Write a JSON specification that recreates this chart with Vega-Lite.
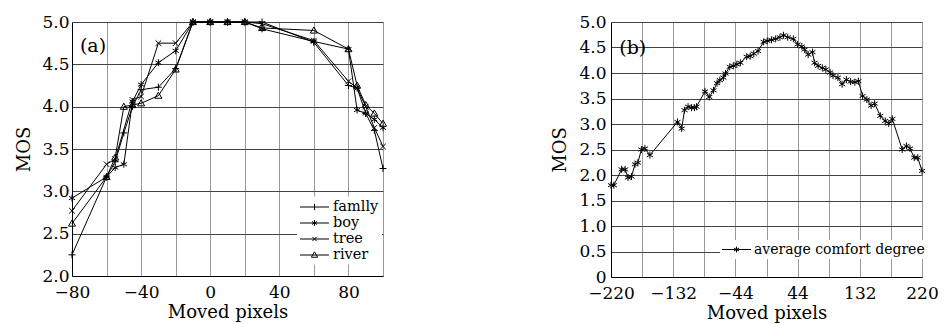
{
  "$schema": "https://vega.github.io/schema/vega-lite/v6.json",
  "background": "white",
  "padding": {"left": 15, "top": 13, "right": 5, "bottom": 2},
  "spacing": 162,
  "resolve": {"scale": {"shape": "independent"}, "legend": {"shape": "independent"}},
  "config": {
    "view": {"stroke": null},
    "font": "DejaVu Serif",
    "axis": {"labelFont": "DejaVu Serif", "titleFont": "DejaVu Serif", "labelColor": "black", "titleColor": "black", "labelFontSize": 17, "titleFontSize": 18, "titleFontWeight": "normal", "domainColor": "black", "domainWidth": 1, "ticks": false, "gridOpacity": 1, "gridWidth": 1, "labelFlush": false, "labelOverlap": false},
    "axisX": {"gridColor": "#999999"},
    "axisY": {"gridColor": "#444444"},
    "legend": {"labelFont": "DejaVu Serif", "labelFontSize": 14.5, "labelColor": "black", "fillColor": "white", "padding": 3, "orient": "none", "labelOffset": 18, "rowPadding": 1, "symbolSize": 196, "symbolStrokeColor": "black", "symbolStrokeWidth": 1, "symbolFillColor": "transparent", "symbolOpacity": 1, "labelLimit": 300}
  },
  "hconcat": [
    {
      "width": 311,
      "height": 254,
      "resolve": {"scale": {"shape": "independent"}, "legend": {"shape": "independent"}},
      "data": {"values": [
        {"x": -80, "y": 2.25, "s": "famlly"}, {"x": -60, "y": 3.17, "s": "famlly"}, {"x": -55, "y": 3.35, "s": "famlly"}, {"x": -50, "y": 3.69, "s": "famlly"}, {"x": -45, "y": 4.0, "s": "famlly"}, {"x": -40, "y": 4.2, "s": "famlly"}, {"x": -30, "y": 4.23, "s": "famlly"}, {"x": -20, "y": 4.45, "s": "famlly"}, {"x": -10, "y": 5.0, "s": "famlly"}, {"x": 0, "y": 5.0, "s": "famlly"}, {"x": 10, "y": 5.0, "s": "famlly"}, {"x": 20, "y": 5.0, "s": "famlly"}, {"x": 30, "y": 5.0, "s": "famlly"}, {"x": 60, "y": 4.76, "s": "famlly"}, {"x": 80, "y": 4.25, "s": "famlly"}, {"x": 85, "y": 4.22, "s": "famlly"}, {"x": 90, "y": 3.92, "s": "famlly"}, {"x": 95, "y": 3.72, "s": "famlly"}, {"x": 100, "y": 3.27, "s": "famlly"},
        {"x": -80, "y": 2.92, "s": "boy"}, {"x": -60, "y": 3.17, "s": "boy"}, {"x": -55, "y": 3.28, "s": "boy"}, {"x": -50, "y": 3.32, "s": "boy"}, {"x": -45, "y": 4.06, "s": "boy"}, {"x": -40, "y": 4.26, "s": "boy"}, {"x": -30, "y": 4.52, "s": "boy"}, {"x": -20, "y": 4.66, "s": "boy"}, {"x": -10, "y": 5.0, "s": "boy"}, {"x": 0, "y": 5.0, "s": "boy"}, {"x": 10, "y": 5.0, "s": "boy"}, {"x": 20, "y": 5.0, "s": "boy"}, {"x": 30, "y": 4.92, "s": "boy"}, {"x": 60, "y": 4.77, "s": "boy"}, {"x": 80, "y": 4.68, "s": "boy"}, {"x": 85, "y": 3.96, "s": "boy"}, {"x": 90, "y": 3.92, "s": "boy"}, {"x": 95, "y": 3.85, "s": "boy"}, {"x": 100, "y": 3.75, "s": "boy"},
        {"x": -80, "y": 2.77, "s": "tree"}, {"x": -60, "y": 3.32, "s": "tree"}, {"x": -55, "y": 3.38, "s": "tree"}, {"x": -45, "y": 4.08, "s": "tree"}, {"x": -40, "y": 4.12, "s": "tree"}, {"x": -30, "y": 4.75, "s": "tree"}, {"x": -20, "y": 4.75, "s": "tree"}, {"x": -10, "y": 5.0, "s": "tree"}, {"x": 0, "y": 5.0, "s": "tree"}, {"x": 10, "y": 5.0, "s": "tree"}, {"x": 20, "y": 5.0, "s": "tree"}, {"x": 30, "y": 4.98, "s": "tree"}, {"x": 60, "y": 4.78, "s": "tree"}, {"x": 80, "y": 4.3, "s": "tree"}, {"x": 85, "y": 4.22, "s": "tree"}, {"x": 90, "y": 4.0, "s": "tree"}, {"x": 95, "y": 3.75, "s": "tree"}, {"x": 100, "y": 3.53, "s": "tree"},
        {"x": -80, "y": 2.62, "s": "river"}, {"x": -60, "y": 3.17, "s": "river"}, {"x": -55, "y": 3.4, "s": "river"}, {"x": -50, "y": 4.0, "s": "river"}, {"x": -45, "y": 4.02, "s": "river"}, {"x": -40, "y": 4.04, "s": "river"}, {"x": -30, "y": 4.13, "s": "river"}, {"x": -20, "y": 4.44, "s": "river"}, {"x": -10, "y": 5.0, "s": "river"}, {"x": 0, "y": 5.0, "s": "river"}, {"x": 10, "y": 5.0, "s": "river"}, {"x": 20, "y": 5.0, "s": "river"}, {"x": 30, "y": 4.93, "s": "river"}, {"x": 60, "y": 4.9, "s": "river"}, {"x": 80, "y": 4.68, "s": "river"}, {"x": 85, "y": 4.25, "s": "river"}, {"x": 90, "y": 4.02, "s": "river"}, {"x": 95, "y": 3.92, "s": "river"}, {"x": 100, "y": 3.8, "s": "river"}
      ]},
      "encoding": {
        "x": {"field": "x", "type": "quantitative", "scale": {"domain": [-80, 100], "nice": false, "zero": false},
              "axis": {"title": "Moved pixels", "values": [-80, -60, -40, -20, 0, 20, 40, 60, 80, 100], "labelExpr": "datum.value % 40 === 0 ? datum.label : ''", "labelPadding": 8, "titlePadding": 3}},
        "y": {"field": "y", "type": "quantitative", "scale": {"domain": [2, 5], "nice": false, "zero": false},
              "axis": {"title": "MOS", "values": [2, 2.5, 3, 3.5, 4, 4.5, 5], "format": ".1f", "labelPadding": 3, "titlePadding": 8}}
      },
      "layer": [
        {
          "mark": {"type": "line", "color": "black", "strokeWidth": 1},
          "encoding": {"detail": {"field": "s"}}
        },
        {
          "mark": {"type": "point", "filled": false, "color": "black", "opacity": 1, "strokeWidth": 1, "size": 49},
          "encoding": {
            "shape": {"field": "s", "type": "nominal", "legend": null,
              "scale": {"domain": ["famlly", "boy", "tree", "river"], "range": ["M-1,0L1,0M0,-1L0,1", "M0,-1L0,1M-0.87,-0.5L0.87,0.5M-0.87,0.5L0.87,-0.5", "M-0.8,-0.8L0.8,0.8M-0.8,0.8L0.8,-0.8", "M0,-1L1,0.75L-1,0.75Z"]}}
          }
        },
        {
          "mark": {"type": "point", "filled": false, "color": "black", "opacity": 1, "strokeWidth": 1, "size": 0},
          "encoding": {
            "shape": {"field": "s", "type": "nominal",
              "scale": {"domain": ["famlly", "boy", "tree", "river"], "range": ["M-1.07,0L3.07,0M1,-0.45L1,0.45", "M-1.07,0L3.07,0M1,-0.42L1,0.42M0.64,-0.21L1.36,0.21M0.64,0.21L1.36,-0.21", "M-1.07,0L3.07,0M0.7,-0.3L1.3,0.3M0.7,0.3L1.3,-0.3", "M-1.07,0L3.07,0M1,-0.45L1.45,0.32L0.55,0.32Z"]},
              "legend": {"title": null, "legendX": 225, "legendY": 174.5,
                "encode": {"symbols": {"size": {"value": 196}, "fill": {"value": "transparent"}, "stroke": {"value": "black"}, "strokeWidth": {"value": 1}, "opacity": {"value": 1}}}}}
          }
        },
        {
          "data": {"values": [{"x": -75.4, "y": 4.72, "t": "(a)"}]},
          "mark": {"type": "text", "align": "left", "baseline": "middle", "fontSize": 19, "font": "DejaVu Serif", "color": "black"},
          "encoding": {"text": {"field": "t"}}
        }
      ]
    },
    {
      "width": 311,
      "height": 255,
      "resolve": {"scale": {"shape": "independent"}, "legend": {"shape": "independent"}},
      "data": {"values": [
        {"x": -220, "y": 1.80, "s": "average comfort degree"}, {"x": -216, "y": 1.80, "s": "average comfort degree"}, {"x": -205, "y": 2.11, "s": "average comfort degree"}, {"x": -200, "y": 2.11, "s": "average comfort degree"}, {"x": -196, "y": 1.95, "s": "average comfort degree"}, {"x": -191, "y": 1.97, "s": "average comfort degree"}, {"x": -186, "y": 2.21, "s": "average comfort degree"}, {"x": -182, "y": 2.24, "s": "average comfort degree"}, {"x": -177, "y": 2.50, "s": "average comfort degree"}, {"x": -172, "y": 2.52, "s": "average comfort degree"}, {"x": -165, "y": 2.39, "s": "average comfort degree"},
        {"x": -126, "y": 3.04, "s": "average comfort degree"}, {"x": -120, "y": 2.91, "s": "average comfort degree"}, {"x": -116, "y": 3.27, "s": "average comfort degree"}, {"x": -111, "y": 3.34, "s": "average comfort degree"}, {"x": -106, "y": 3.32, "s": "average comfort degree"}, {"x": -102, "y": 3.32, "s": "average comfort degree"}, {"x": -99, "y": 3.34, "s": "average comfort degree"},
        {"x": -87, "y": 3.64, "s": "average comfort degree"}, {"x": -81, "y": 3.53, "s": "average comfort degree"}, {"x": -75, "y": 3.66, "s": "average comfort degree"}, {"x": -70, "y": 3.80, "s": "average comfort degree"}, {"x": -66, "y": 3.86, "s": "average comfort degree"}, {"x": -61, "y": 3.91, "s": "average comfort degree"}, {"x": -58, "y": 3.99, "s": "average comfort degree"}, {"x": -52, "y": 4.12, "s": "average comfort degree"}, {"x": -47, "y": 4.14, "s": "average comfort degree"}, {"x": -42, "y": 4.17, "s": "average comfort degree"}, {"x": -37, "y": 4.20, "s": "average comfort degree"}, {"x": -28, "y": 4.32, "s": "average comfort degree"}, {"x": -23, "y": 4.33, "s": "average comfort degree"}, {"x": -18, "y": 4.38, "s": "average comfort degree"}, {"x": -12, "y": 4.43, "s": "average comfort degree"},
        {"x": -4, "y": 4.61, "s": "average comfort degree"}, {"x": 1, "y": 4.63, "s": "average comfort degree"}, {"x": 7, "y": 4.65, "s": "average comfort degree"}, {"x": 13, "y": 4.67, "s": "average comfort degree"}, {"x": 19, "y": 4.70, "s": "average comfort degree"}, {"x": 24, "y": 4.74, "s": "average comfort degree"}, {"x": 30, "y": 4.70, "s": "average comfort degree"}, {"x": 38, "y": 4.67, "s": "average comfort degree"}, {"x": 44, "y": 4.56, "s": "average comfort degree"}, {"x": 50, "y": 4.52, "s": "average comfort degree"}, {"x": 54, "y": 4.46, "s": "average comfort degree"}, {"x": 59, "y": 4.36, "s": "average comfort degree"}, {"x": 65, "y": 4.41, "s": "average comfort degree"}, {"x": 68, "y": 4.20, "s": "average comfort degree"}, {"x": 73, "y": 4.14, "s": "average comfort degree"}, {"x": 79, "y": 4.10, "s": "average comfort degree"}, {"x": 84, "y": 4.07, "s": "average comfort degree"}, {"x": 90, "y": 4.01, "s": "average comfort degree"}, {"x": 94, "y": 3.95, "s": "average comfort degree"}, {"x": 101, "y": 3.91, "s": "average comfort degree"}, {"x": 107, "y": 3.78, "s": "average comfort degree"}, {"x": 113, "y": 3.87, "s": "average comfort degree"}, {"x": 119, "y": 3.83, "s": "average comfort degree"}, {"x": 125, "y": 3.82, "s": "average comfort degree"}, {"x": 130, "y": 3.84, "s": "average comfort degree"},
        {"x": 136, "y": 3.55, "s": "average comfort degree"}, {"x": 142, "y": 3.48, "s": "average comfort degree"}, {"x": 148, "y": 3.36, "s": "average comfort degree"}, {"x": 153, "y": 3.40, "s": "average comfort degree"}, {"x": 161, "y": 3.16, "s": "average comfort degree"}, {"x": 168, "y": 3.06, "s": "average comfort degree"}, {"x": 173, "y": 3.01, "s": "average comfort degree"}, {"x": 178, "y": 3.10, "s": "average comfort degree"},
        {"x": 192, "y": 2.50, "s": "average comfort degree"}, {"x": 198, "y": 2.57, "s": "average comfort degree"}, {"x": 203, "y": 2.52, "s": "average comfort degree"}, {"x": 209, "y": 2.34, "s": "average comfort degree"}, {"x": 214, "y": 2.34, "s": "average comfort degree"}, {"x": 220, "y": 2.08, "s": "average comfort degree"}
      ]},
      "encoding": {
        "x": {"field": "x", "type": "quantitative", "scale": {"domain": [-220, 220], "nice": false, "zero": false},
              "axis": {"title": "Moved pixels", "values": [-220, -176, -132, -88, -44, 0, 44, 88, 132, 176, 220], "labelExpr": "(datum.value + 220) % 88 === 0 ? datum.label : ''", "labelPadding": 8, "titlePadding": 3}},
        "y": {"field": "y", "type": "quantitative", "scale": {"domain": [0, 5], "nice": false, "zero": false},
              "axis": {"title": "MOS", "values": [0, 0.5, 1, 1.5, 2, 2.5, 3, 3.5, 4, 4.5, 5], "format": ".1f", "labelExpr": "datum.value === 0 ? '0' : datum.label", "labelPadding": 5, "titlePadding": 9}}
      },
      "layer": [
        {
          "mark": {"type": "line", "color": "black", "strokeWidth": 1}
        },
        {
          "mark": {"type": "point", "filled": false, "color": "black", "opacity": 1, "strokeWidth": 1, "size": 49},
          "encoding": {
            "shape": {"field": "s", "type": "nominal", "legend": null,
              "scale": {"domain": ["average comfort degree"], "range": ["M0,-1L0,1M-0.87,-0.5L0.87,0.5M-0.87,0.5L0.87,-0.5"]}}
          }
        },
        {
          "mark": {"type": "point", "filled": false, "color": "black", "opacity": 1, "strokeWidth": 1, "size": 0},
          "encoding": {
            "shape": {"field": "s", "type": "nominal",
              "scale": {"domain": ["average comfort degree"], "range": ["M-1.07,0L3.07,0M1,-0.42L1,0.42M0.64,-0.21L1.36,0.21M0.64,0.21L1.36,-0.21"]},
              "legend": {"title": null, "legendX": 109, "legendY": 218, "padding": 2, "labelFontSize": 14, "labelOffset": 17,
                "encode": {"symbols": {"size": {"value": 196}, "fill": {"value": "transparent"}, "stroke": {"value": "black"}, "strokeWidth": {"value": 1}, "opacity": {"value": 1}}}}}
          }
        },
        {
          "data": {"values": [{"x": -208.3, "y": 4.49, "t": "(b)"}]},
          "mark": {"type": "text", "align": "left", "baseline": "middle", "fontSize": 19, "font": "DejaVu Serif", "color": "black"},
          "encoding": {"text": {"field": "t"}}
        }
      ]
    }
  ]
}
